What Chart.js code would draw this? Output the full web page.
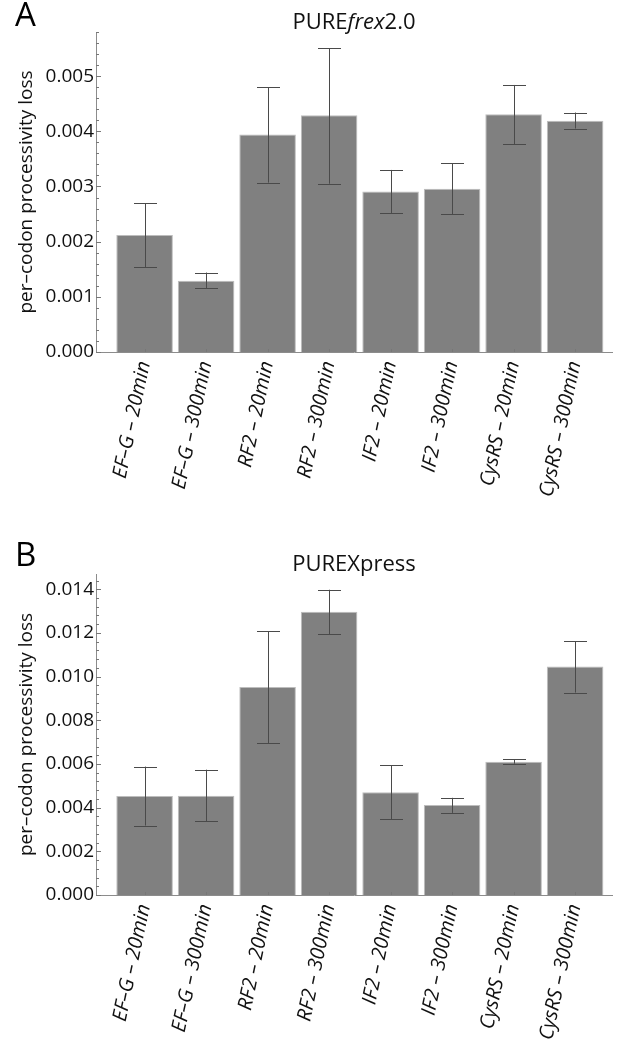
<!DOCTYPE html>
<html>
<head>
<meta charset="utf-8">
<script src="https://cdn.jsdelivr.net/npm/chart.js@4"></script>
<style>
  html,body{margin:0;padding:0;background:#fff;}
  body{width:629px;height:1055px;position:relative;overflow:hidden;font-family:'Open Sans',sans-serif;color:#111;}
  .panel{position:absolute;left:0;width:629px;}
  .letter{position:absolute;font-size:33px;line-height:33px;color:#000;}
  .title{position:absolute;left:96px;width:516px;text-align:center;font-size:22px;line-height:22px;color:#111;}
  canvas{display:block;}
</style>
</head>
<body>
<div class="panel" style="top:0;height:527px;"><canvas id="c1" width="629" height="527"></canvas></div>
<div class="panel" style="top:527px;height:528px;"><canvas id="c2" width="629" height="528"></canvas></div>
<div class="letter" style="left:15px;top:-3px;">A</div>
<div class="title" style="top:9px;">PURE<i>frex</i>2.0</div>
<div class="letter" style="left:15px;top:537px;">B</div>
<div class="title" style="top:551px;">PUREXpress</div>
<script>
// ---- data ----
const categories = ["EF–G – 20min","EF–G – 300min","RF2 – 20min","RF2 – 300min","IF2 – 20min","IF2 – 300min","CysRS – 20min","CysRS – 300min"];

const frexValues  = [0.00212, 0.00129, 0.00394, 0.00429, 0.00291, 0.00296, 0.00431, 0.00419];
const frexErrLow  = [0.00154, 0.00116, 0.00307, 0.00305, 0.00252, 0.00250, 0.00377, 0.00405];
const frexErrHigh = [0.00270, 0.00144, 0.00480, 0.00551, 0.00330, 0.00342, 0.00484, 0.00434];
const frexYTicks  = [0, 0.001, 0.002, 0.003, 0.004, 0.005];

const expValues   = [0.00453, 0.00454, 0.00952, 0.01297, 0.00470, 0.00412, 0.00610, 0.01046];
const expErrLow   = [0.00318, 0.00338, 0.00695, 0.01195, 0.00346, 0.00376, 0.00601, 0.00927];
const expErrHigh  = [0.00588, 0.00574, 0.01207, 0.01398, 0.00594, 0.00445, 0.00621, 0.01163];
const expYTicks   = [0, 0.002, 0.004, 0.006, 0.008, 0.010, 0.012, 0.014];

const FONT = "'Open Sans', sans-serif";

const errorBarPlugin = {
  id: 'errorBars',
  afterDatasetsDraw(chart, args, opts) {
    const ctx = chart.ctx;
    const meta = chart.getDatasetMeta(0);
    const ys = chart.scales.y;
    ctx.save();
    ctx.strokeStyle = '#4a4a4a';
    ctx.lineWidth = 1;
    meta.data.forEach((bar, i) => {
      const x = Math.round(bar.x) + 0.5;
      const yl = ys.getPixelForValue(opts.low[i]);
      const yh = ys.getPixelForValue(opts.high[i]);
      const cw = 11.5;
      ctx.beginPath();
      ctx.moveTo(x, yl); ctx.lineTo(x, yh);
      ctx.moveTo(x - cw, Math.round(yl) + 0.5); ctx.lineTo(x + cw, Math.round(yl) + 0.5);
      ctx.moveTo(x - cw, Math.round(yh) + 0.5); ctx.lineTo(x + cw, Math.round(yh) + 0.5);
      ctx.stroke();
    });
    ctx.restore();
  }
};

const tickMarkPlugin = {
  id: 'tickMarks',
  afterDraw(chart, args, opts) {
    const ctx = chart.ctx;
    const ys = chart.scales.y, xs = chart.scales.x;
    const left = ys.right, bottom = xs.top;
    ctx.save();
    ctx.strokeStyle = '#777';
    ctx.lineWidth = 1;
    ctx.beginPath();
    for (let v = 0; v <= ys.max + 1e-12; v += opts.minor) {
      const y = Math.round(ys.getPixelForValue(v)) + 0.5;
      ctx.moveTo(left, y); ctx.lineTo(left + 3, y);
    }
    ctx.stroke();
    ctx.beginPath();
    ys.ticks.forEach(t => {
      const y = Math.round(ys.getPixelForValue(t.value)) + 0.5;
      ctx.moveTo(left, y); ctx.lineTo(left + 5, y);
    });
    xs.ticks.forEach(t => {
      const x = Math.round(xs.getPixelForValue(t.value)) + 0.5;
      ctx.moveTo(x, bottom); ctx.lineTo(x, bottom - 3);
    });
    ctx.stroke();
    ctx.restore();
  }
};

function makeChart(id, values, low, high, yTicks, yMax, minorStep, areaTop, areaBottom, canvasH) {
  return new Chart(document.getElementById(id), {
    type: 'bar',
    data: {
      datasets: [{
        data: values.map((v, i) => ({x: i, y: v})),
        backgroundColor: '#808080',
        borderColor: '#bdbdbd',
        borderWidth: 1,
        barPercentage: 0.92,
        categoryPercentage: 1
      }]
    },
    options: {
      responsive: false,
      animation: false,
      devicePixelRatio: 1,
      layout: {padding: {top: areaTop, right: 17, left: 0, bottom: 0}},
      plugins: {
        legend: {display: false},
        tooltip: {enabled: false},
        title: {display: false},
        errorBars: {low: low, high: high},
        tickMarks: {minor: minorStep}
      },
      scales: {
        x: {
          type: 'linear',
          min: -0.79,
          max: 7.6,
          offset: false,
          afterBuildTicks: s => { s.ticks = categories.map((c, i) => ({value: i})); },
          afterFit: s => { s.height = canvasH - areaBottom; },
          grid: {display: false, drawTicks: false},
          border: {display: true, color: '#8c8c8c', width: 1},
          ticks: {
            autoSkip: false,
            minRotation: 78,
            maxRotation: 78,
            padding: 7,
            color: '#111',
            font: {family: FONT, size: 20, style: 'italic'},
            callback: v => categories[v] !== undefined ? categories[v] : ''
          }
        },
        y: {
          min: 0,
          max: yMax,
          afterBuildTicks: s => { s.ticks = yTicks.map(v => ({value: v})); },
          afterFit: s => { s.width = 96; },
          grid: {display: false, drawTicks: false},
          border: {display: true, color: '#8c8c8c', width: 1},
          ticks: {
            padding: 2,
            color: '#111',
            font: {family: FONT, size: 19},
            callback: v => Number(v).toFixed(3)
          },
          title: {
            display: true,
            text: 'per–codon processivity loss',
            color: '#111',
            font: {family: FONT, size: 19},
            padding: {top: 15, bottom: 0}
          }
        }
      }
    },
    plugins: [errorBarPlugin, tickMarkPlugin]
  });
}

makeChart('c1', frexValues, frexErrLow, frexErrHigh, frexYTicks, 0.0058, 0.0002, 32, 352, 527);
makeChart('c2', expValues, expErrLow, expErrHigh, expYTicks, 0.0147, 0.0004, 47, 368, 528);
</script>
</body>
</html>
